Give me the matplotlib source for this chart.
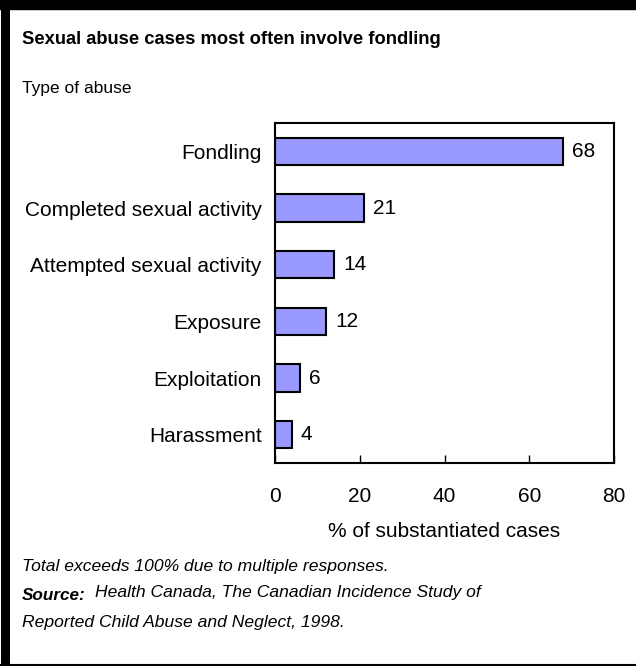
import matplotlib
matplotlib.use("Agg")
import matplotlib.pyplot as plt
from matplotlib.lines import Line2D

plt.rcParams['font.family'] = ['Liberation Sans', 'DejaVu Sans']

categories = ["Fondling", "Completed sexual activity", "Attempted sexual activity",
              "Exposure", "Exploitation", "Harassment"]
values = [68, 21, 14, 12, 6, 4]
xticks = [0, 20, 40, 60, 80]

W, H = 636, 666
fig = plt.figure(figsize=(W / 100, H / 100), dpi=100)

ax = fig.add_axes([275 / W, 1 - 463 / H, (614 - 275) / W, (463 - 123) / H])
ypos = list(range(len(categories)))
ax.barh(ypos, values, height=0.48, color="#9999FF", edgecolor="black", linewidth=1.5)
ax.set_ylim(len(categories) - 0.5, -0.5)
ax.set_xlim(0, 80)
ax.set_yticks(ypos)
ax.set_yticklabels(categories, fontsize=15)
ax.set_xticks(xticks)
ax.set_xticklabels([str(t) for t in xticks], fontsize=15)
ax.tick_params(axis='y', length=0, pad=9.5)
ax.tick_params(axis='x', direction='in', length=6, width=1, pad=17)
for s in ax.spines.values():
    s.set_linewidth(1.5)
for y, v in zip(ypos, values):
    ax.annotate(str(v), (v, y), xytext=(6.5, 0), textcoords='offset points',
                va='center', ha='left', fontsize=15)
ax.set_xlabel("% of substantiated cases", fontsize=15, labelpad=12)

fig.text(22 / W, 1 - 40 / H, "Sexual abuse cases most often involve fondling",
         fontsize=13.2, fontweight='bold', va='center', ha='left')
fig.text(22 / W, 1 - 88 / H, "Type of abuse", fontsize=12.5, va='center', ha='left')
fig.text(22 / W, 1 - 566 / H, "Total exceeds 100% due to multiple responses.",
         fontsize=12.6, style='italic', va='center', ha='left')
fig.text(22 / W, 1 - 595 / H, "Source:", fontsize=12.3, style='italic', fontweight='bold',
         va='center', ha='left')
fig.text(95 / W, 1 - 593 / H, "Health Canada, The Canadian Incidence Study of",
         fontsize=12.6, style='italic', va='center', ha='left')
fig.text(22 / W, 1 - 622 / H, "Reported Child Abuse and Neglect, 1998.",
         fontsize=12.6, style='italic', va='center', ha='left')

# Frame: thick top and left, thin bottom
fig.add_artist(Line2D([0, 1], [1 - 5 / H, 1 - 5 / H], color='black', linewidth=7.5,
                      transform=fig.transFigure))
fig.add_artist(Line2D([4.5 / W, 4.5 / W], [0, 1], color='black', linewidth=6.5,
                      transform=fig.transFigure))
fig.add_artist(Line2D([0, 1], [1 / H, 1 / H], color='black', linewidth=1.5,
                      transform=fig.transFigure))

fig.savefig("out.png", dpi=100)
